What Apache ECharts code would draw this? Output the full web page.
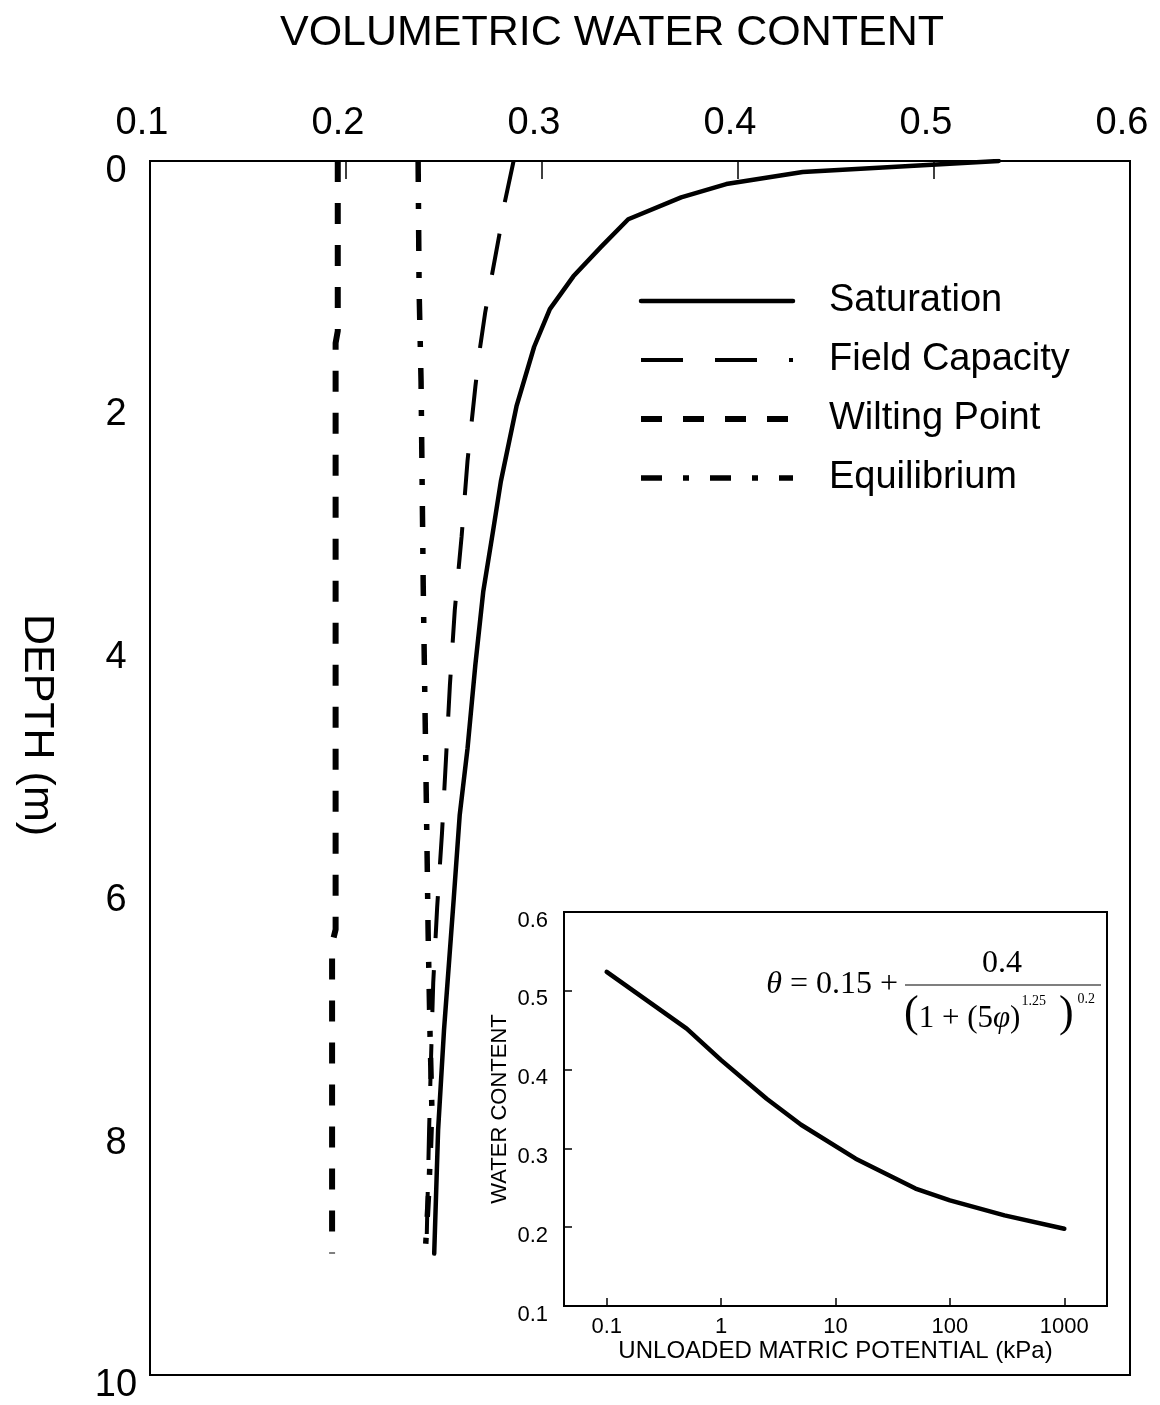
<!DOCTYPE html>
<html>
<head>
<meta charset="utf-8">
<script src="https://cdn.jsdelivr.net/npm/echarts@6/dist/echarts.min.js"></script>
<style>
  html, body { margin: 0; padding: 0; background: #fff; }
  #chart { width: 1160px; height: 1405px; }
</style>
</head>
<body>
<div id="chart"></div>
<script>
// main plot: volumetric water content vs depth (m)
const satTheta = [0.533, 0.433, 0.394, 0.371, 0.344, 0.330, 0.316, 0.304, 0.296, 0.287, 0.279, 0.275, 0.270, 0.266, 0.262, 0.258, 0.255, 0.250, 0.247, 0.245];
const satDepth = [0, 0.09, 0.19, 0.30, 0.48, 0.71, 0.95, 1.22, 1.53, 2.02, 2.64, 3.05, 3.55, 4.15, 4.84, 5.39, 6.07, 7.16, 7.98, 9.0];

const fcTheta = [0.2855, 0.281, 0.278, 0.274, 0.271, 0.268, 0.266, 0.262, 0.259, 0.2555, 0.253, 0.251, 0.249, 0.2465, 0.2445, 0.2434, 0.2424, 0.241];
const fcDepth = [0, 0.34, 0.63, 0.98, 1.25, 1.58, 1.86, 2.47, 3.09, 3.7, 4.32, 4.93, 5.53, 6.15, 6.77, 7.38, 7.98, 9.0];

const wpTheta = [0.1958, 0.1958, 0.1947, 0.1947, 0.1929, 0.1929];
const wpDepth = [0, 1.4, 1.5, 6.33, 6.45, 9.0];

const eqTheta = [0.2368, 0.2373, 0.2383, 0.2394, 0.2404, 0.2414, 0.2419, 0.2429, 0.2438, 0.2425, 0.2404];
const eqDepth = [0, 1.06, 1.82, 3.5, 4.61, 5.74, 6.35, 7.22, 7.79, 8.4, 9.0];

// inset: water content vs unloaded matric potential (kPa)
const potential = [0.1, 0.5, 1, 2.5, 5, 15, 50, 100, 300, 1000];
const waterContent = [0.524, 0.452, 0.412, 0.363, 0.330, 0.287, 0.249, 0.234, 0.215, 0.198];

const seriesNames = ['Saturation', 'Field Capacity', 'Wilting Point', 'Equilibrium'];

function pairs(xs, ys) {
  return xs.map(function (x, i) { return [x, ys[i]]; });
}

const SANS = 'Liberation Sans';
const SERIF = 'Liberation Serif';

const chart = echarts.init(document.getElementById('chart'), null, { renderer: 'canvas' });

chart.setOption({
  animation: false,
  backgroundColor: '#fff',
  textStyle: { fontFamily: SANS, color: '#000' },
  grid: [
    { left: 150, right: 30, top: 161, bottom: 26, show: true, borderColor: '#000', borderWidth: 2, backgroundColor: 'transparent' },
    { left: 564, top: 912, width: 543, height: 394, show: true, borderColor: '#000', borderWidth: 2, backgroundColor: '#fff' }
  ],
  legend: {
    orient: 'vertical',
    left: 638,
    top: 281,
    padding: 0,
    itemWidth: 152,
    itemHeight: 20,
    itemGap: 19,
    data: seriesNames,
    textStyle: { fontFamily: SANS, fontSize: 38, color: '#000', padding: [0, 0, 0, 31], lineHeight: 40 },
    lineStyle: { width: 'inherit', type: 'inherit' },
    itemStyle: { opacity: 0, borderWidth: 0 },
    selectedMode: false
  },
  xAxis: [
    {
      gridIndex: 0, type: 'value', position: 'top', min: 0.1, max: 0.6, interval: 0.1,
      axisLine: { show: true, lineStyle: { color: '#000', width: 2 } },
      axisTick: { show: true, inside: true, length: 18, lineStyle: { color: '#000', width: 1.5 } },
      axisLabel: { fontFamily: SANS, fontSize: 38, color: '#000', margin: 18, padding: [0, 16, 0, 0] },
      splitLine: { show: false }
    },
    {
      gridIndex: 1, type: 'log', logBase: 10, min: 0.04233, max: 2361,
      name: 'UNLOADED MATRIC POTENTIAL (kPa)', nameLocation: 'middle', nameGap: 33,
      nameTextStyle: { fontFamily: SANS, fontSize: 24, color: '#000' },
      axisLine: { show: true, lineStyle: { color: '#000', width: 2 } },
      axisTick: { show: true, inside: true, length: 8, lineStyle: { color: '#000', width: 1.5 } },
      axisLabel: {
        fontFamily: SANS, fontSize: 22, color: '#000', margin: 10,
        showMinLabel: true, showMaxLabel: true,
        formatter: function (v) {
          const l = Math.log10(v);
          if (Math.abs(l - Math.round(l)) > 1e-6) return '';
          const p = Math.round(l);
          return p < 0 ? '0.1' : String(Math.pow(10, p));
        }
      },
      splitLine: { show: false }
    }
  ],
  yAxis: [
    {
      gridIndex: 0, type: 'value', inverse: true, min: 0, max: 10, interval: 2,
      axisLine: { show: true, lineStyle: { color: '#000', width: 2 } },
      axisTick: { show: false },
      axisLabel: { fontFamily: SANS, fontSize: 38, color: '#000', margin: 34, align: 'center', verticalAlign: 'top', lineHeight: 22 },
      splitLine: { show: false }
    },
    {
      gridIndex: 1, type: 'value', min: 0.1, max: 0.6, interval: 0.1,
      name: 'WATER CONTENT', nameLocation: 'middle', nameGap: 53,
      nameTextStyle: { fontFamily: SANS, fontSize: 22, color: '#000' },
      axisLine: { show: true, lineStyle: { color: '#000', width: 2 } },
      axisTick: { show: true, inside: true, length: 8, lineStyle: { color: '#000', width: 1.5 } },
      axisLabel: { fontFamily: SANS, fontSize: 22, color: '#000', margin: 16, verticalAlign: 'top', lineHeight: 17 },
      splitLine: { show: false }
    }
  ],
  series: [
    {
      name: 'Saturation', type: 'line', xAxisIndex: 0, yAxisIndex: 0, symbol: 'none',
      data: pairs(satTheta, satDepth), color: '#000',
      lineStyle: { color: '#000', width: 4.5, type: 'solid', cap: 'round', join: 'round' }
    },
    {
      name: 'Field Capacity', type: 'line', xAxisIndex: 0, yAxisIndex: 0, symbol: 'none',
      data: pairs(fcTheta, fcDepth), color: '#000',
      lineStyle: { color: '#000', width: 4, type: [42, 32], cap: 'butt' }
    },
    {
      name: 'Wilting Point', type: 'line', xAxisIndex: 0, yAxisIndex: 0, symbol: 'none',
      data: pairs(wpTheta, wpDepth), color: '#000',
      lineStyle: { color: '#000', width: 6, type: [21, 21], cap: 'butt' }
    },
    {
      name: 'Equilibrium', type: 'line', xAxisIndex: 0, yAxisIndex: 0, symbol: 'none',
      data: pairs(eqTheta, eqDepth), color: '#000',
      lineStyle: { color: '#000', width: 5.5, type: [21, 21, 6, 21], cap: 'butt' }
    },
    {
      name: 'inset', type: 'line', xAxisIndex: 1, yAxisIndex: 1, symbol: 'none',
      data: pairs(potential, waterContent), color: '#000',
      lineStyle: { color: '#000', width: 4.5, cap: 'round', join: 'round' }
    }
  ],
  graphic: [
    {
      type: 'text', x: 612, y: 33,
      style: { text: 'VOLUMETRIC WATER CONTENT', font: '43px "Liberation Sans"', fill: '#000', align: 'center', verticalAlign: 'middle' }
    },
    {
      type: 'text', x: 37, y: 725, rotation: -Math.PI / 2,
      style: { text: 'DEPTH (m)', font: '43px "Liberation Sans"', fill: '#000', align: 'center', verticalAlign: 'middle' }
    },
    // equation inside the inset
    {
      type: 'text', x: 898, y: 985,
      style: {
        text: '{i|θ}{n| = 0.15 +}', align: 'right', verticalAlign: 'middle', fill: '#000',
        rich: {
          i: { fontFamily: SERIF, fontSize: 32, fontStyle: 'italic' },
          n: { fontFamily: SERIF, fontSize: 32 }
        }
      }
    },
    {
      type: 'line', shape: { x1: 905, y1: 985, x2: 1101, y2: 985 },
      style: { stroke: '#000', lineWidth: 1.2 }
    },
    {
      type: 'text', x: 1002, y: 964,
      style: { text: '0.4', font: '32px "Liberation Serif"', fill: '#000', align: 'center', verticalAlign: 'middle' }
    },
    {
      type: 'text', x: 904, y: 1014,
      style: {
        text: '{p|(}{n|1 + (5}{i|φ}{n|)}{s|1.25}{p| )}{t|0.2}',
        align: 'left', verticalAlign: 'middle', fill: '#000',
        rich: {
          p: { fontFamily: SERIF, fontSize: 44, verticalAlign: 'middle' },
          n: { fontFamily: SERIF, fontSize: 31, verticalAlign: 'bottom', padding: [0, 0, 2, 0] },
          i: { fontFamily: SERIF, fontSize: 31, fontStyle: 'italic', verticalAlign: 'bottom', padding: [0, 0, 2, 0] },
          s: { fontFamily: SERIF, fontSize: 14, verticalAlign: 'top', padding: [2, 2, 0, 1] },
          t: { fontFamily: SERIF, fontSize: 14, verticalAlign: 'top', padding: [0, 0, 0, 4] }
        }
      }
    }
  ]
});
</script>
</body>
</html>
